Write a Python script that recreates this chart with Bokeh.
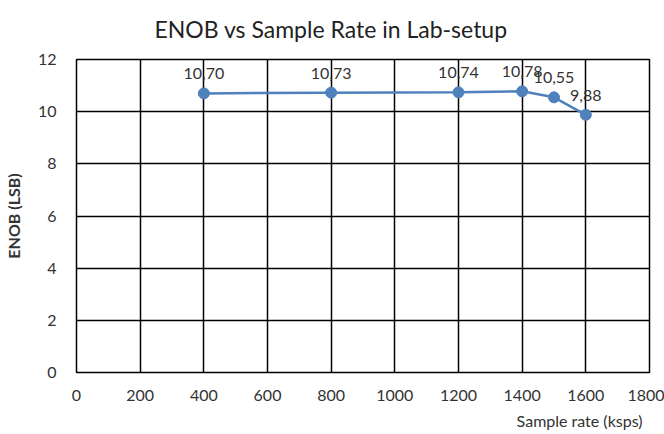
from bokeh.plotting import figure
from bokeh.models import ColumnDataSource, Range1d, FixedTicker, Title, LabelSet
from bokeh.core.properties import value
from bokeh.embed import file_html
from bokeh.resources import INLINE

sample_rate = [400, 800, 1200, 1400, 1500, 1600]
enob = [10.70, 10.73, 10.74, 10.78, 10.55, 9.88]
labels = ["10,70", "10,73", "10,74", "10,78", "10,55", "9,88"]
x_ticks = [0, 200, 400, 600, 800, 1000, 1200, 1400, 1600, 1800]
y_ticks = [0, 2, 4, 6, 8, 10, 12]

FONT = "Lato"
BLUE = "#4f81bd"

src = ColumnDataSource(dict(x=sample_rate, y=enob, lab=labels))

p = figure(width=664, height=434, output_backend="svg", toolbar_location=None,
           x_range=Range1d(0, 1800), y_range=Range1d(0, 12),
           min_border_left=75, min_border_right=15, min_border_top=59, min_border_bottom=57)

p.title.text = "ENOB vs Sample Rate in Lab-setup"
p.title.align = "left"
p.title.offset = 78
p.title.vertical_align = "top"
p.title.text_font = FONT
p.title.text_font_style = "normal"
p.title.text_font_size = "23px"
p.title.text_color = "#222222"
p.title.standoff = 29

p.outline_line_color = "black"
p.outline_line_width = 1.5

for ax in (p.xaxis[0], p.yaxis[0]):
    ax.axis_line_color = None
    ax.major_tick_line_color = None
    ax.minor_tick_line_color = None
    ax.major_label_text_font = FONT
    ax.major_label_text_font_size = "16px"
    ax.major_label_text_color = "#333333"

p.xaxis.ticker = FixedTicker(ticks=x_ticks)
p.yaxis.ticker = FixedTicker(ticks=y_ticks)
p.xaxis.major_label_standoff = 11
p.yaxis.major_label_standoff = 14

p.yaxis.axis_label = "ENOB (LSB)"
p.yaxis.axis_label_text_font = FONT
p.yaxis.axis_label_text_font_style = "bold"
p.yaxis.axis_label_text_font_size = "16px"
p.yaxis.axis_label_text_color = "#333333"
p.yaxis.axis_label_standoff = 12

p.add_layout(Title(text="Sample rate (ksps)", align="right", text_font=FONT,
                   text_font_style="normal", text_font_size="16px",
                   text_color="#333333", offset=7), "below")

p.xgrid.ticker = FixedTicker(ticks=x_ticks)
p.ygrid.ticker = FixedTicker(ticks=y_ticks)
for g in (p.xgrid[0], p.ygrid[0]):
    g.grid_line_color = "black"
    g.grid_line_width = 1.5
    g.grid_line_alpha = 1.0

p.line("x", "y", source=src, line_color=BLUE, line_width=2.5)
p.scatter("x", "y", source=src, size=11, fill_color=BLUE, line_color=BLUE)

p.add_layout(LabelSet(x="x", y="y", text="lab", source=src, y_offset=14,
                      text_align="center", text_baseline="bottom",
                      text_font=value(FONT), text_font_size=value("16px"),
                      text_color="#333333"))

p.background_fill_color = "white"
p.border_fill_color = "white"

open("out.html", "w").write(file_html(p, INLINE))
